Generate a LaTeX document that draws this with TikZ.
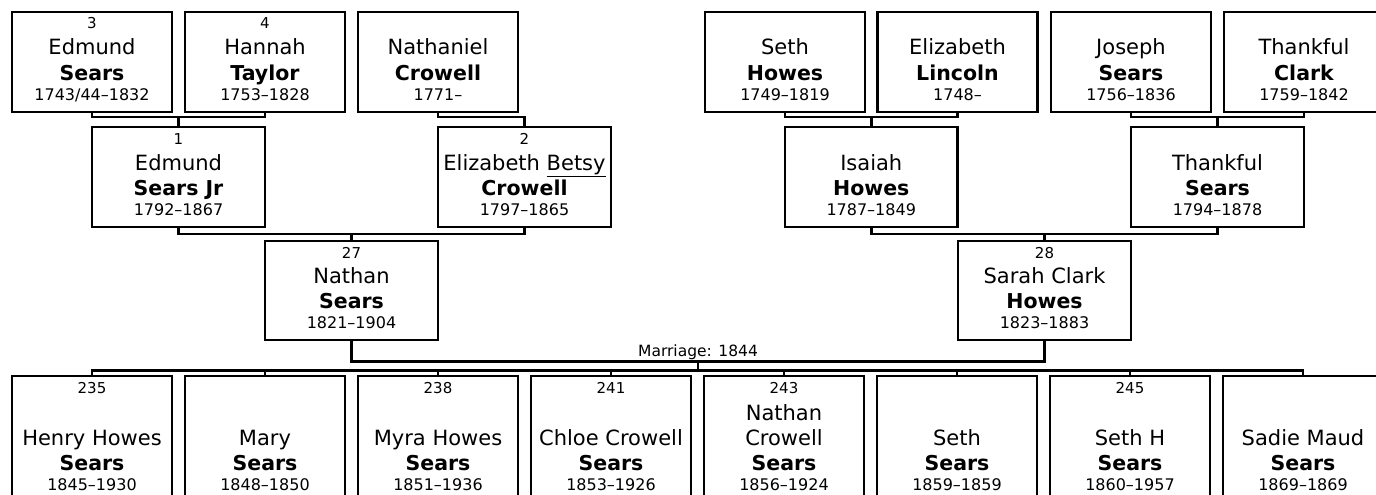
\documentclass[tikz,border=0pt]{standalone}
\usepackage{fontspec}
\setmainfont{DejaVu Sans}
\newcommand\ptext[5]{%
  \node[numt] (#1-n) at ([yshift=-17pt]#1.north) {#2};
  \node[namet] (#1-f) at ([yshift=57pt]#1.south) {#3};
  \node[surt] (#1-l) at ([yshift=31.5pt]#1.south) {#4};
  \node[datet] (#1-d) at ([yshift=12pt]#1.south) {#5};}
\begin{document}
\begin{tikzpicture}[x=1pt,y=-1pt,
  pbox/.style={draw=black, line width=2.8pt, inner sep=0pt, outer sep=0pt, anchor=north west, minimum height=100pt},
  conn/.style={draw=black, line width=2.8pt},
  numt/.style={anchor=base, inner sep=0pt, font=\fontsize{15}{17}\selectfont},
  namet/.style={anchor=base, inner sep=0pt, font=\fontsize{21}{25}\selectfont},
  surt/.style={anchor=base, inner sep=0pt, font=\fontsize{20.5}{24}\selectfont\bfseries},
  datet/.style={anchor=base, inner sep=0pt, font=\fontsize{16}{18}\selectfont},
  marrt/.style={anchor=base, inner sep=0pt, font=\fontsize{15.5}{18}\selectfont}]
\useasboundingbox (0,0) rectangle (1376,495);
\fill[white] (0,0) rectangle (1376,495);
\clip (0,0) rectangle (1376,495);

% ---- row 1 ----
\node[pbox, minimum width=160pt] (p3) at (12,12) {};
\node[pbox, minimum width=160pt] (p4) at (185,12) {};
\node[pbox, minimum width=160pt] (pnat) at (358,12) {};
\node[pbox, minimum width=160pt] (psh) at (705,12) {};
\node[pbox, minimum width=160pt] (pel) at (877.5,12) {};
\node[pbox, minimum width=160pt] (pjs) at (1051,12) {};
\node[pbox, minimum width=160pt] (ptc) at (1224,12) {};
\ptext{p3}{3}{Edmund}{Sears}{1743/44–1832}
\ptext{p4}{4}{Hannah}{Taylor}{1753–1828}
\ptext{pnat}{}{Nathaniel}{Crowell}{1771–}
\ptext{psh}{}{Seth}{Howes}{1749–1819}
\ptext{pel}{}{Elizabeth}{Lincoln}{1748–}
\ptext{pjs}{}{Joseph}{Sears}{1756–1836}
\ptext{ptc}{}{Thankful}{Clark}{1759–1842}

% ---- row 2 ----
\node[pbox, minimum width=173pt] (p1) at (92,127) {};
\node[pbox, minimum width=173pt] (p2) at (438,127) {};
\node[pbox, minimum width=172.5pt] (pis) at (785,127) {};
\node[pbox, minimum width=173pt] (pts) at (1131,127) {};
\ptext{p1}{1}{Edmund}{Sears Jr}{1792–1867}
\ptext{p2}{2}{Elizabeth \underline{Betsy}}{Crowell}{1797–1865}
\ptext{pis}{}{Isaiah}{Howes}{1787–1849}
\ptext{pts}{}{Thankful}{Sears}{1794–1878}

% ---- row 3 ----
\node[pbox, minimum width=173pt, minimum height=99pt] (p27) at (265,241) {};
\node[pbox, minimum width=173pt, minimum height=99pt] (p28) at (958,241) {};
\ptext{p27}{27}{Nathan}{Sears}{1821–1904}
\ptext{p28}{28}{Sarah Clark}{Howes}{1823–1883}

% ---- children ----
\node[pbox, minimum width=160pt, minimum height=126pt] (k1) at (12,376) {};
\node[pbox, minimum width=160pt, minimum height=126pt] (k2) at (185,376) {};
\node[pbox, minimum width=160pt, minimum height=126pt] (k3) at (358,376) {};
\node[pbox, minimum width=160pt, minimum height=126pt] (k4) at (531,376) {};
\node[pbox, minimum width=160pt, minimum height=126pt] (k5) at (704,376) {};
\node[pbox, minimum width=160pt, minimum height=126pt] (k6) at (877,376) {};
\node[pbox, minimum width=160pt, minimum height=126pt] (k7) at (1050,376) {};
\node[pbox, minimum width=160pt, minimum height=126pt] (k8) at (1223,376) {};
\ptext{k1}{235}{Henry Howes}{Sears}{1845–1930}
\ptext{k2}{}{Mary}{Sears}{1848–1850}
\ptext{k3}{238}{Myra Howes}{Sears}{1851–1936}
\ptext{k4}{241}{Chloe Crowell}{Sears}{1853–1926}
\ptext{k5}{243}{Crowell}{Sears}{1856–1924}
\node[namet] (k5-f2) at ([yshift=82pt]k5.south) {Nathan};
\ptext{k6}{}{Seth}{Sears}{1859–1859}
\ptext{k7}{245}{Seth H}{Sears}{1860–1957}
\ptext{k8}{}{Sadie Maud}{Sears}{1869–1869}

% ---- connectors ----
\coordinate (m34) at (178.5,117);
\coordinate (mnat) at (524.5,117);
\coordinate (mse) at (871.25,117);
\coordinate (mjt) at (1217.5,117);
\coordinate (m12) at (351.5,234);
\coordinate (mit) at (1044.4,234);
\coordinate (mm) at (698,361.5);
\coordinate (bar) at (698,370.5);

\draw[conn] (p3.south) |- (m34) -| (p4.south);
\draw[conn] (m34) -- (p1.north);
\draw[conn] (pnat.south) |- (mnat) -- (p2.north);
\draw[conn] (psh.south) |- (mse) -| (pel.south);
\draw[conn] (mse) -- (pis.north);
\draw[conn] (pjs.south) |- (mjt) -| (ptc.south);
\draw[conn] (mjt) -- (pts.north);
\draw[conn] (p1.south) |- (m12) -| (p2.south);
\draw[conn] (m12) -- (p27.north);
\draw[conn] (pis.south) |- (mit) -| (pts.south);
\draw[conn] (mit) -- (p28.north);
\draw[conn] (p27.south) |- (mm) -| (p28.south);
\draw[conn] (mm) -- (bar);
\draw[conn] (k1.north) |- (bar) -| (k8.north);
\foreach \k in {k2,k3,k4,k5,k6,k7} \draw[conn] (\k.north) -- (\k.north |- bar);
\node[marrt] (mlabel) at (698,356.7) {Marriage: 1844};
\end{tikzpicture}
\end{document}
